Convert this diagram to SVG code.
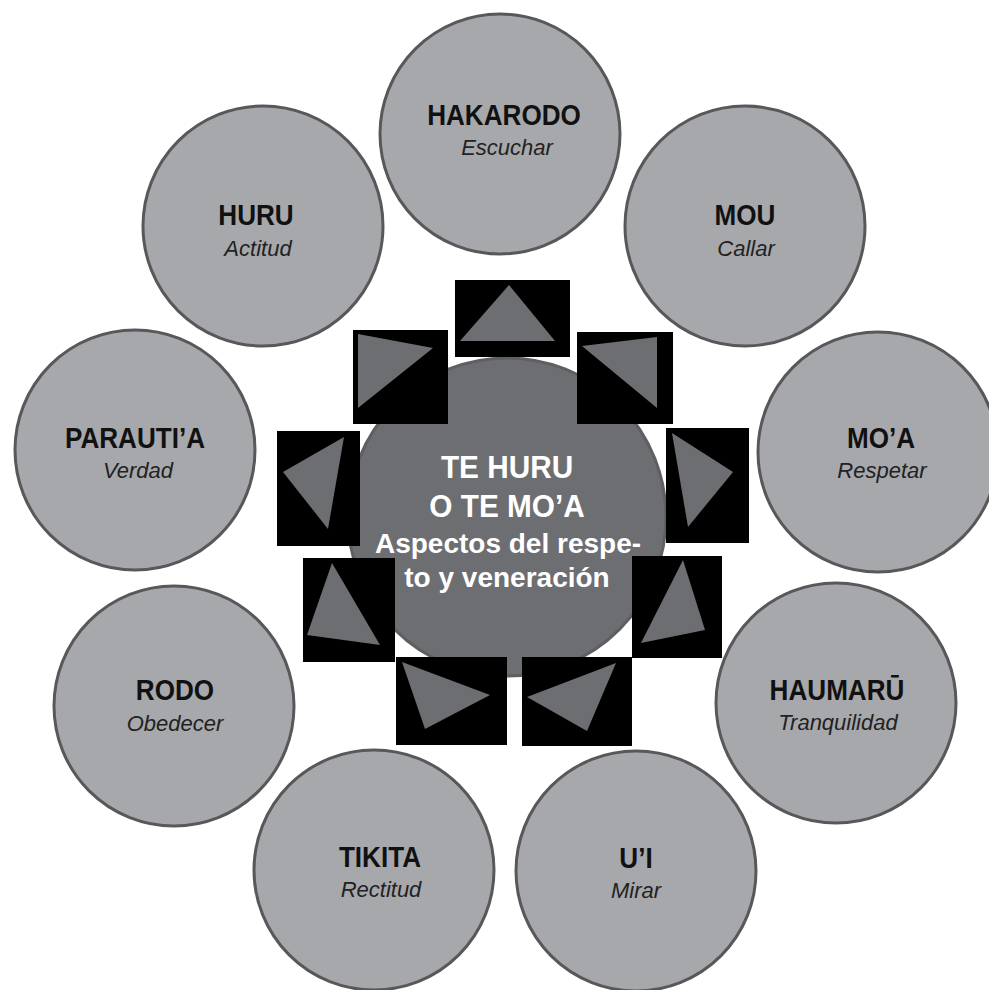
<svg xmlns="http://www.w3.org/2000/svg" width="989" height="990" viewBox="0 0 989 990">
<style>
.oc{fill:#a7a8ab;stroke:#58585a;stroke-width:3}
.cc{fill:#6d6e71;stroke:#5e5f62;stroke-width:3}
.t{font-family:"Liberation Sans",Arial,sans-serif;font-weight:bold;font-size:29px;fill:#111;text-anchor:middle}
.s{font-family:"Liberation Sans",Arial,sans-serif;font-style:italic;font-size:22px;fill:#222;text-anchor:middle}
.c1{font-family:"Liberation Sans",Arial,sans-serif;font-weight:bold;font-size:32px;fill:#fff;text-anchor:middle}
.c2{font-family:"Liberation Sans",Arial,sans-serif;font-weight:bold;font-size:28px;fill:#fff;text-anchor:middle}
.sq{fill:#000}
.tr{fill:#6d6e71}
</style>
<rect width="989" height="990" fill="#fff"/>

<g id="hakarodo">
<circle class="oc" cx="500" cy="134" r="120"/>
<text class="t" transform="translate(504,125) scale(.9,1)">HAKARODO</text>
<text class="s" x="507" y="155">Escuchar</text>
</g>
<g id="mou">
<circle class="oc" cx="745" cy="226" r="120"/>
<text class="t" transform="translate(745,225) scale(.9,1)">MOU</text>
<text class="s" x="746" y="256">Callar</text>
</g>
<g id="moa">
<circle class="oc" cx="878" cy="452" r="120"/>
<text class="t" transform="translate(881,448) scale(.9,1)">MO’A</text>
<text class="s" x="882" y="478">Respetar</text>
</g>
<g id="haumaru">
<circle class="oc" cx="836" cy="703" r="120"/>
<text class="t" transform="translate(837,700) scale(.9,1)">HAUMARŪ</text>
<text class="s" x="838" y="730">Tranquilidad</text>
</g>
<g id="ui">
<circle class="oc" cx="636" cy="871" r="120"/>
<text class="t" transform="translate(636,868) scale(.9,1)">U’I</text>
<text class="s" x="636" y="898">Mirar</text>
</g>
<g id="tikita">
<circle class="oc" cx="374" cy="870" r="120"/>
<text class="t" transform="translate(380,867) scale(.9,1)">TIKITA</text>
<text class="s" x="381" y="897">Rectitud</text>
</g>
<g id="rodo">
<circle class="oc" cx="174" cy="706" r="120"/>
<text class="t" transform="translate(175,700) scale(.9,1)">RODO</text>
<text class="s" x="175" y="731">Obedecer</text>
</g>
<g id="parautia">
<circle class="oc" cx="135" cy="450" r="120"/>
<text class="t" transform="translate(135,448) scale(.9,1)">PARAUTI’A</text>
<text class="s" x="138" y="478">Verdad</text>
</g>
<g id="huru">
<circle class="oc" cx="263" cy="226" r="120"/>
<text class="t" transform="translate(256,225) scale(.9,1)">HURU</text>
<text class="s" x="258" y="256">Actitud</text>
</g>

<g id="center">
<circle class="cc" cx="507" cy="517" r="159"/>
<text class="c1" transform="translate(507,478) scale(.93,1)">TE HURU</text>
<text class="c1" transform="translate(507,517) scale(.93,1)">O TE MO’A</text>
<text class="c2" x="508" y="553">Aspectos del respe-</text>
<text class="c2" x="507" y="587">to y veneración</text>
</g>

<g id="connectors">
<rect class="sq" x="455" y="280" width="115" height="77"/>
<polygon class="tr" points="509,285 460,341 555,341"/>
<rect class="sq" x="353" y="330" width="95" height="94"/>
<polygon class="tr" points="358,334 433,348 358,408"/>
<rect class="sq" x="577" y="332" width="96" height="92"/>
<polygon class="tr" points="582,346 657,337 657,408"/>
<rect class="sq" x="277" y="431" width="83" height="115"/>
<polygon class="tr" points="283,472 344,437 328,529"/>
<rect class="sq" x="666" y="428" width="83" height="115"/>
<polygon class="tr" points="672,433 733,472 688,527"/>
<rect class="sq" x="303" y="558" width="92" height="104"/>
<polygon class="tr" points="332,563 307,635 380,645"/>
<rect class="sq" x="632" y="556" width="90" height="102"/>
<polygon class="tr" points="683,560 705,630 641,643"/>
<rect class="sq" x="396" y="657" width="111" height="88"/>
<polygon class="tr" points="402,662 490,695 425,729"/>
<rect class="sq" x="522" y="657" width="110" height="89"/>
<polygon class="tr" points="527,697 616,663 587,731"/>
</g>
</svg>
